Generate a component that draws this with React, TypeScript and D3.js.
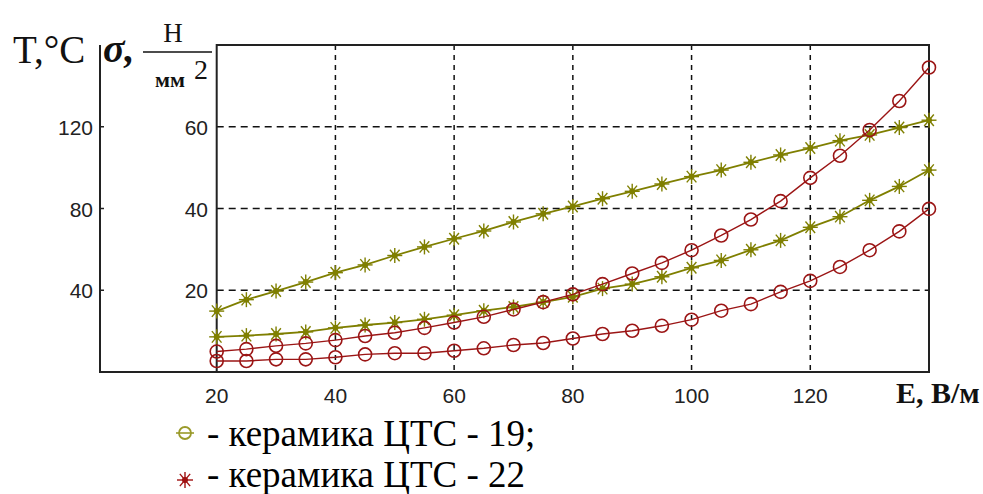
import React, { useEffect, useRef } from 'react';
import * as d3 from 'd3';

// E, V/m
const eValues = [20, 25, 30, 35, 40, 45, 50, 55, 60, 65, 70, 75, 80, 85, 90, 95, 100, 105, 110, 115, 120, 125, 130, 135, 140];

// olive (asterisk) curves
const oliveUpper = [14.9, 17.7, 19.8, 22.0, 24.3, 26.2, 28.5, 30.6, 32.6, 34.5, 36.7, 38.7, 40.5, 42.4, 44.2, 46.0, 47.8, 49.4, 51.3, 53.1, 54.8, 56.6, 58.0, 59.8, 61.6];
const oliveLower = [8.6, 8.9, 9.3, 9.8, 10.8, 11.5, 12.1, 12.9, 13.9, 15.0, 15.9, 17.1, 18.4, 20.4, 21.5, 23.3, 25.5, 27.3, 29.9, 32.2, 35.4, 38.0, 42.0, 45.4, 49.4];

// red (circle) curves
const redUpper = [5.0, 5.6, 6.4, 7.0, 7.8, 8.8, 9.6, 10.8, 12.1, 13.5, 15.3, 17.1, 19.0, 21.5, 24.1, 26.7, 29.8, 33.4, 37.3, 41.8, 47.5, 52.9, 59.2, 66.3, 74.5];
const redLower = [2.7, 2.7, 3.1, 3.1, 3.6, 4.3, 4.6, 4.6, 5.2, 5.8, 6.6, 7.1, 8.2, 9.3, 10.1, 11.3, 12.8, 15.0, 16.6, 19.6, 22.3, 25.7, 29.8, 34.4, 39.9];

const xTicks = [20, 40, 60, 80, 100, 120];
const gridX = [40, 60, 80, 100, 120];
const sigmaTicks = [20, 40, 60];
const tTicks = [40, 80, 120];

const legendItems = ['- керамика ЦТС - 19;', '- керамика ЦТС - 22'];

const OLIVE = '#7f7f00';
const RED = '#9b1515';
const SERIF = '"Liberation Serif", "DejaVu Serif", "Times New Roman", serif';
const SANS = '"Liberation Sans", Arial, sans-serif';

export default function App() {
  const ref = useRef<SVGSVGElement>(null);

  useEffect(() => {
    const svg = d3.select(ref.current);
    svg.selectAll('*').remove();

    const left = 216.7, right = 929, top = 45, bottom = 372, outerLeft = 100;

    const x = d3.scaleLinear().domain([20, 140]).range([left, right]);
    const yS = d3.scaleLinear().domain([0, 80]).range([bottom, top]);
    const yT = d3.scaleLinear().domain([0, 160]).range([bottom, top]);

    const g = svg.append('g');

    // grid
    g.selectAll('.gx').data(gridX).join('line')
      .attr('x1', d => x(d)).attr('x2', d => x(d))
      .attr('y1', top).attr('y2', bottom)
      .attr('stroke', '#111').attr('stroke-width', 1.5).attr('stroke-dasharray', '5,5');
    g.selectAll('.gy').data(sigmaTicks).join('line')
      .attr('x1', left).attr('x2', right)
      .attr('y1', d => yS(d)).attr('y2', d => yS(d))
      .attr('stroke', '#111').attr('stroke-width', 1.5).attr('stroke-dasharray', '7,5');

    // frames
    g.append('rect').attr('x', left).attr('y', top)
      .attr('width', right - left).attr('height', bottom - top)
      .attr('fill', 'none').attr('stroke', '#222').attr('stroke-width', 2);
    g.append('line').attr('x1', outerLeft).attr('x2', outerLeft).attr('y1', top).attr('y2', bottom)
      .attr('stroke', '#222').attr('stroke-width', 2);
    g.append('line').attr('x1', outerLeft - 1).attr('x2', right).attr('y1', bottom).attr('y2', bottom)
      .attr('stroke', '#222').attr('stroke-width', 2);

    // T axis ticks
    g.selectAll('.tt').data(tTicks).join('line')
      .attr('x1', outerLeft).attr('x2', outerLeft + 4)
      .attr('y1', d => yT(d)).attr('y2', d => yT(d))
      .attr('stroke', '#222').attr('stroke-width', 1.5);

    // tick labels
    g.selectAll('.tl').data(tTicks).join('text')
      .attr('x', 93).attr('y', d => yT(d) + 8)
      .attr('text-anchor', 'end').attr('font-family', SANS).attr('font-size', 21).attr('fill', '#222')
      .text(d => d);
    g.selectAll('.sl').data(sigmaTicks).join('text')
      .attr('x', 208).attr('y', d => yS(d) + 8)
      .attr('text-anchor', 'end').attr('font-family', SANS).attr('font-size', 21).attr('fill', '#222')
      .text(d => d);
    g.selectAll('.xl').data(xTicks).join('text')
      .attr('x', d => x(d)).attr('y', 403)
      .attr('text-anchor', 'middle').attr('font-family', SANS).attr('font-size', 21).attr('fill', '#222')
      .text(d => d);

    const line = d3.line<number>().x((d, i) => x(eValues[i])).y(d => yS(d));

    const drawStar = (sel: any, cx: number, cy: number, color: string, arm: number) => {
      [0, 50, 90, 130].forEach(a => {
        const r = (a * Math.PI) / 180;
        sel.append('line')
          .attr('x1', cx - arm * Math.cos(r)).attr('x2', cx + arm * Math.cos(r))
          .attr('y1', cy - arm * Math.sin(r)).attr('y2', cy + arm * Math.sin(r))
          .attr('stroke', color).attr('stroke-width', 1.4);
      });
      sel.append('circle').attr('cx', cx).attr('cy', cy).attr('r', 3).attr('fill', color);
    };

    [oliveUpper, oliveLower].forEach(series => {
      g.append('path').datum(series).attr('d', line)
        .attr('fill', 'none').attr('stroke', OLIVE).attr('stroke-width', 1.8);
      series.forEach((v, i) => drawStar(g, x(eValues[i]), yS(v), OLIVE, 7.5));
    });

    [redUpper, redLower].forEach(series => {
      g.append('path').datum(series).attr('d', line)
        .attr('fill', 'none').attr('stroke', RED).attr('stroke-width', 1.4);
      g.selectAll(null).data(series).join('circle')
        .attr('cx', (d, i) => x(eValues[i])).attr('cy', d => yS(d)).attr('r', 6.5)
        .attr('fill', 'none').attr('stroke', RED).attr('stroke-width', 1.6);
    });

    // axis titles
    g.append('text').attr('x', 13).attr('y', 63)
      .attr('font-family', SERIF).attr('font-size', 39).attr('fill', '#111').text('T,°C');
    g.append('text').attr('x', 103).attr('y', 62)
      .attr('font-family', SERIF).attr('font-size', 40).attr('font-weight', 'bold').attr('font-style', 'italic')
      .attr('fill', '#111').text('σ,');
    g.append('text').attr('x', 173).attr('y', 42).attr('text-anchor', 'middle')
      .attr('font-family', SERIF).attr('font-size', 27).attr('fill', '#111').text('Н');
    g.append('line').attr('x1', 143).attr('x2', 212).attr('y1', 52).attr('y2', 52)
      .attr('stroke', '#111').attr('stroke-width', 1.5);
    g.append('text').attr('x', 155).attr('y', 87)
      .attr('font-family', SERIF).attr('font-size', 22).attr('font-weight', 'bold').attr('fill', '#111').text('мм');
    g.append('text').attr('x', 194).attr('y', 79)
      .attr('font-family', SERIF).attr('font-size', 28).attr('fill', '#111').text('2');
    g.append('text').attr('x', 896).attr('y', 403)
      .attr('font-family', SERIF).attr('font-size', 30).attr('font-weight', 'bold').attr('fill', '#111').text('E, В/м');

    // legend
    g.append('line').attr('x1', 176).attr('x2', 194).attr('y1', 433).attr('y2', 433)
      .attr('stroke', '#9a9a2a').attr('stroke-width', 1.6);
    g.append('circle').attr('cx', 185).attr('cy', 433).attr('r', 6)
      .attr('fill', 'none').attr('stroke', '#9a9a2a').attr('stroke-width', 1.8);
    drawStar(g, 185, 480, '#a01010', 8);

    g.selectAll('.lg').data(legendItems).join('text')
      .attr('x', 207).attr('y', (d, i) => 446 + i * 41)
      .attr('font-family', SERIF).attr('font-size', 37).attr('fill', '#000')
      .text(d => d);
  }, []);

  return (
    <svg ref={ref} width={983} height={494}
      style={{ position: 'absolute', left: 0, top: 0, background: '#fff' }} />
  );
}
